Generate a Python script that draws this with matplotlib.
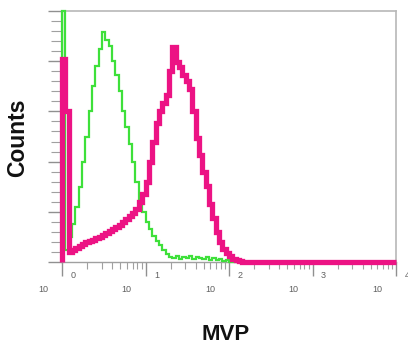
import numpy as np
import matplotlib
matplotlib.use("Agg")
import matplotlib.pyplot as plt
from matplotlib.ticker import LogLocator, MultipleLocator, NullFormatter

# log10 bin edges (0.04 decade bins from 10^0 to 10^4)
bin_log_edges = np.arange(101) * 0.04
edges = 10 ** bin_log_edges

green_counts = [250, 12, 25, 38, 55, 75, 100, 125, 150, 175,
                195, 212, 229, 221, 215, 200, 186, 170, 150, 134,
                118, 100, 80, 62, 50, 40, 33, 26, 21, 17,
                12, 8, 5, 4, 6, 3, 5, 4, 6, 3,
                5, 4, 3, 5, 2, 4, 2, 3, 1, 2] + [0] * 50

magenta_counts = [202, 150, 10, 12, 14, 16, 18, 20, 21, 22,
                  24, 25, 27, 29, 31, 33, 35, 37, 40, 43,
                  46, 49, 53, 60, 68, 80, 100, 120, 138, 150,
                  158, 166, 190, 214, 199, 194, 186, 180, 172, 150,
                  124, 107, 90, 76, 58, 44, 30, 20, 13, 9,
                  6, 3, 2, 1] + [0] * 46

decades = [0, 1, 2, 3, 4]
xlabel = "MVP"
ylabel = "Counts"

plt.rcParams['font.family'] = ['Liberation Sans', 'DejaVu Sans']

fig = plt.figure(figsize=(4.08, 3.47), dpi=100)
ax = fig.add_axes([62/408, (347-262)/347, (396-62)/408, (262-11)/347])

ax.stairs(green_counts, edges, color='#3ee03a', linewidth=1.6, zorder=3, clip_on=False)
ax.stairs(magenta_counts, edges, color='#ec1384', linewidth=3.8, zorder=4, clip_on=False)

ax.set_xscale('log')
ax.set_xlim(1, 1e4)
ax.set_ylim(0, 250)

for s in ['top', 'right']:
    ax.spines[s].set_color('#b8b8b8')
    ax.spines[s].set_linewidth(1.2)
for s in ['left', 'bottom']:
    ax.spines[s].set_color('#a0a0a0')
    ax.spines[s].set_linewidth(1.0)

ax.xaxis.set_major_locator(LogLocator(base=10, numticks=10))
ax.xaxis.set_minor_locator(LogLocator(base=10, subs=np.arange(2, 10), numticks=20))
ax.xaxis.set_major_formatter(NullFormatter())
ax.xaxis.set_minor_formatter(NullFormatter())
ax.tick_params(axis='x', which='major', length=10, width=1, color='#909090', direction='out')
ax.tick_params(axis='x', which='minor', length=5, width=0.8, color='#a0a0a0', direction='out')

ax.yaxis.set_major_locator(MultipleLocator(50))
ax.yaxis.set_minor_locator(MultipleLocator(10))
ax.yaxis.set_major_formatter(NullFormatter())
ax.tick_params(axis='y', which='major', length=10, width=1, color='#909090', direction='out')
ax.tick_params(axis='y', which='minor', length=8, width=0.8, color='#a0a0a0', direction='out')

for d in decades:
    ax.annotate("10", xy=(10 ** d, 0), xycoords=('data', 'axes fraction'),
                xytext=(-19 * 0.72, -27 * 0.72), textcoords='offset points',
                ha='center', va='center', fontsize=6.5, color='#606060',
                annotation_clip=False)
    ax.annotate(str(d), xy=(10 ** d, 0), xycoords=('data', 'axes fraction'),
                xytext=(11 * 0.72, -13 * 0.72), textcoords='offset points',
                ha='center', va='center', fontsize=6.5, color='#606060',
                annotation_clip=False)

fig.text(226/408, 1 - 335/347, xlabel, ha='center', va='center',
         fontsize=16, fontweight='bold', color='#111111')
fig.text(18/408, 1 - 138/347, ylabel, ha='center', va='center', rotation=90,
         fontsize=16.5, fontweight='bold', color='#111111')

fig.savefig('out.png', dpi=100)
